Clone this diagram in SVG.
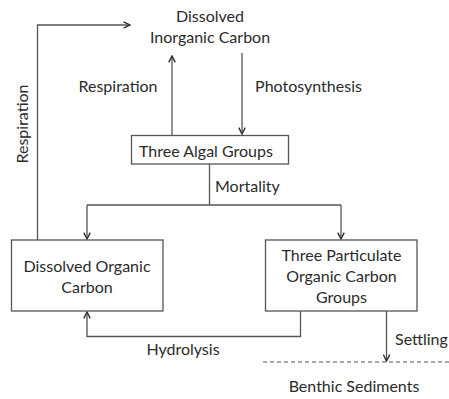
<svg xmlns="http://www.w3.org/2000/svg" width="449" height="399" viewBox="0 0 449 399">
  <style>
    text { font-family: Lato, "Liberation Sans", Arial, sans-serif; font-size: 16px; fill: #2b2b2b; }
    .mid { text-anchor: middle; }
    .box { fill: #ffffff; stroke: #555555; stroke-width: 1.3; }
    .link { fill: none; stroke: #555555; stroke-width: 1.3; }
    .dash { fill: none; stroke: #555555; stroke-width: 1.2; stroke-dasharray: 4 3; }
  </style>
  <defs>
    <marker id="chev" viewBox="0 0 10 10" refX="9" refY="5" markerWidth="8" markerHeight="8" markerUnits="userSpaceOnUse" orient="auto">
      <path d="M1,1 L9,5 L1,9" fill="none" stroke="#333333" stroke-width="1.8"/>
    </marker>
  </defs>
  <rect width="449" height="399" fill="#ffffff"/>

  <g id="connectors">
    <!-- respiration from algae up to DIC -->
    <path class="link" d="M172,135 V56" marker-end="url(#chev)"/>
    <!-- photosynthesis from DIC down to algae -->
    <path class="link" d="M242,53 V134" marker-end="url(#chev)"/>
    <!-- mortality split -->
    <path class="link" d="M209.5,164 V205"/>
    <path class="link" d="M87,205 H341"/>
    <path class="link" d="M87,205 V239" marker-end="url(#chev)"/>
    <path class="link" d="M341,205 V239" marker-end="url(#chev)"/>
    <!-- DOC respiration back to DIC -->
    <path class="link" d="M37.5,240 V25 H130" marker-end="url(#chev)"/>
    <!-- hydrolysis POC to DOC -->
    <path class="link" d="M300.5,311 V336.5 H87 V312" marker-end="url(#chev)"/>
    <!-- settling to sediments -->
    <path class="link" d="M386.5,311 V361" marker-end="url(#chev)"/>
    <!-- sediment interface -->
    <path class="dash" d="M263,362 H449"/>
  </g>

  <g id="dic">
    <text class="mid" x="210" y="22">Dissolved</text>
    <text class="mid" x="210" y="42.5">Inorganic Carbon</text>
  </g>

  <g id="algae">
    <rect class="box" x="131.5" y="135.5" width="157" height="28.5"/>
    <text class="mid" x="206" y="156.5">Three Algal Groups</text>
  </g>

  <g id="doc">
    <rect class="box" x="11.5" y="240" width="151.5" height="71"/>
    <text class="mid" x="87" y="271.5">Dissolved Organic</text>
    <text class="mid" x="87" y="292.5">Carbon</text>
  </g>

  <g id="poc">
    <rect class="box" x="265.5" y="240" width="151.5" height="71"/>
    <text class="mid" x="341.5" y="261">Three Particulate</text>
    <text class="mid" x="341.5" y="282">Organic Carbon</text>
    <text class="mid" x="341.5" y="303">Groups</text>
  </g>

  <g id="sediments">
    <text class="mid" x="354" y="391.5">Benthic Sediments</text>
  </g>

  <g id="labels">
    <text class="mid" x="118" y="92">Respiration</text>
    <text class="mid" x="308.5" y="92">Photosynthesis</text>
    <text x="215" y="191.5">Mortality</text>
    <text class="mid" x="183" y="355">Hydrolysis</text>
    <text x="395" y="345">Settling</text>
    <text class="mid" transform="translate(28,124) rotate(-90)">Respiration</text>
  </g>
</svg>
